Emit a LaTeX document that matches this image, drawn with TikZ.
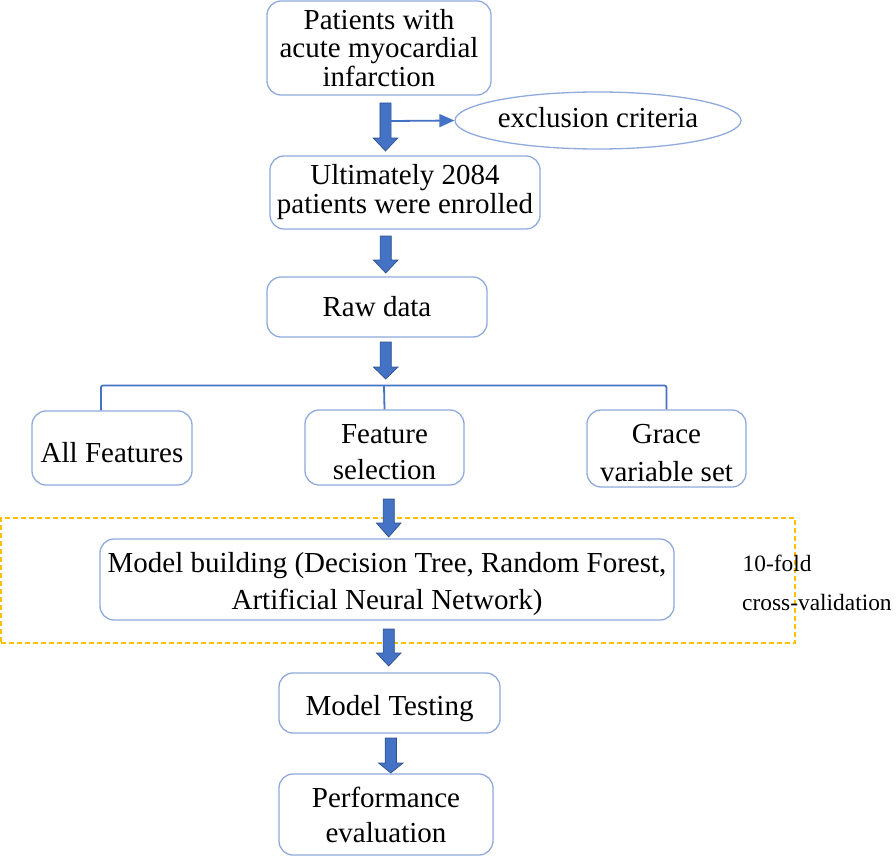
\documentclass[tikz,border=0pt]{standalone}
\usepackage{fontspec}
\setmainfont{Liberation Serif}
\usetikzlibrary{arrows.meta,shapes.geometric}
\definecolor{boxblue}{HTML}{8FAADC}
\definecolor{arrblue}{HTML}{4472C4}
\definecolor{arredge}{HTML}{2F528F}
\definecolor{dashyellow}{HTML}{FFC000}
\newcommand\blockarrow[4]{% centre x, top, head start, tip
  \draw[blockarr] (#1-5.6,#2) -- (#1+5.6,#2) -- (#1+5.6,#3) -- (#1+12.3,#3)
    -- (#1,#4) -- (#1-12.3,#3) -- (#1-5.6,#3) -- cycle;}
\tikzset{
  box/.style={draw=boxblue, line width=1.3pt, rounded corners=14pt, fill=white,
    align=center, inner sep=0pt, font=\fontsize{29}{#1}\selectfont},
  box/.default=28.5,
  blockarr/.style={fill=arrblue, draw=arredge, line width=0.7pt, line join=miter},
  branch/.style={draw=arrblue, line width=1.8pt, rounded corners=2pt},
  exclline/.style={draw=arrblue, line width=1.8pt, -{Triangle[length=15pt,width=13pt]}},
  cvbox/.style={draw=dashyellow, line width=1.8pt, dash pattern=on 5pt off 3pt, inner sep=0pt},
  note/.style={font=\fontsize{23.4}{28}\selectfont, inner sep=0pt, anchor=base west}
}
\begin{document}
\begin{tikzpicture}[x=1pt,y=-1pt]
\useasboundingbox (0,0) rectangle (896,856);

% cross-validation frame
\node[cvbox, minimum width=794pt, minimum height=125pt] (cv) at (398,580.5) {};

% boxes
\node[box, minimum width=224pt, minimum height=94pt] (p) at (379,48)
  {Patients with\\acute myocardial\\infarction};
\node[draw=boxblue, line width=1.3pt, ellipse, minimum width=286pt, minimum height=57pt,
  inner sep=0pt, font=\fontsize{29}{28.5}\selectfont, text depth=6pt] (ex) at (598,120.5)
  {exclusion criteria};
\node[box=29, minimum width=270pt, minimum height=73pt] (u) at (405,192.5)
  {Ultimately 2084\\patients were enrolled};
\node[box, minimum width=220pt, minimum height=60pt] (r) at (377,307) {Raw data};
\node[box, minimum width=160pt, minimum height=74pt, text height=29.4pt] (af) at (112,448)
  {All Features};
\node[box=36, minimum width=159pt, minimum height=75pt, text height=65pt] (fs) at (384.5,447.5)
  {Feature\\selection};
\node[box=37.7, minimum width=159pt, minimum height=77pt, text height=66.4pt] (gr) at (666.5,448.5)
  {Grace\\variable set};
\node[box=37.3, minimum width=574pt, minimum height=81pt, text height=66.1pt] (mb) at (387,579.5)
  {Model building (Decision Tree, Random Forest,\\Artificial Neural Network)};
\node[box, minimum width=221pt, minimum height=60pt, text height=30.3pt] (mt) at (389.5,703)
  {Model Testing};
\node[box=34.7, minimum width=214pt, minimum height=81pt, text height=56.5pt] (pe) at (386,814.5)
  {Performance\\evaluation};

% cross-validation note
\node[note] (n1) at (742.5,571.7) {10-fold};
\node[note] (n2) at (742,610) {cross-validation};

% block arrows
\blockarrow{385.5}{103}{138}{151}
\blockarrow{385.7}{236}{260}{273}
\blockarrow{385.7}{342}{367}{379}
\blockarrow{388.7}{499}{523}{537}
\blockarrow{388.7}{629}{653}{666}
\blockarrow{390.8}{738}{763}{773}

% exclusion connector
\coordinate (xs) at (391,121);
\draw[exclline] (xs) -- (ex.west);

% branching to the three feature sets
\coordinate (j) at (384,385.5);
\draw[branch] (j) -| ([xshift=-11pt]af.north);
\draw[branch] (j) -| (gr.north);
\draw[branch] (j) -- (fs.north);
\end{tikzpicture}
\end{document}
